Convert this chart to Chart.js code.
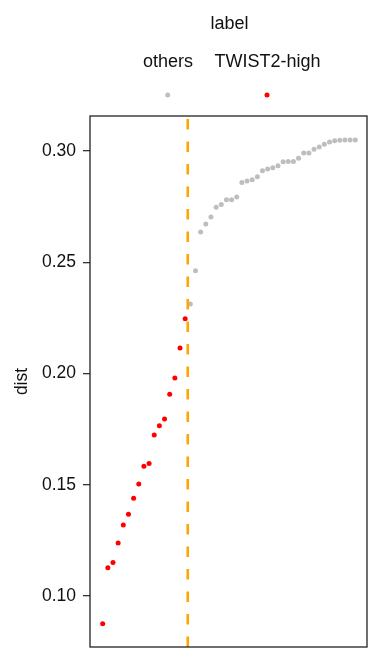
<!DOCTYPE html>
<html>
<head>
<meta charset="utf-8">
<script src="https://cdn.jsdelivr.net/npm/chart.js@4"></script>
<style>
  html, body { margin: 0; padding: 0; background: #fff; }
  canvas { display: block; }
</style>
</head>
<body>
<canvas id="c" width="384" height="672"></canvas>
<script>
// ---- data ----
const ranks = Array.from({length: 50}, (_, i) => i + 1);
const dist = [
  0.0876, 0.1127, 0.1151, 0.1238, 0.1319, 0.1367, 0.1439, 0.1503, 0.1583, 0.1595,
  0.1724, 0.1765, 0.1796, 0.1907, 0.1980, 0.2115, 0.2246,
  0.2312, 0.2462, 0.2636, 0.2672, 0.2703, 0.2747, 0.2759, 0.2781, 0.2781, 0.2793,
  0.2858, 0.2865, 0.2870, 0.2884, 0.2911, 0.2919, 0.2925, 0.2934, 0.2951, 0.2952,
  0.2952, 0.2967, 0.2991, 0.2991, 0.3008, 0.3018, 0.3030, 0.3040, 0.3046, 0.3048,
  0.3049, 0.3049, 0.3049
];
const groups = ranks.map(r => r <= 17 ? 'TWIST2-high' : 'others');
const legendLabels = ['others', 'TWIST2-high'];
const legendTitle = 'label';
const groupColors = { 'others': '#bebebe', 'TWIST2-high': '#ff0000' };
const yTicks = [0.10, 0.15, 0.20, 0.25, 0.30];
const cutoff = 17.5;
const yTitle = 'dist';

const FONT = '"Liberation Sans", Arial, sans-serif';

const datasets = legendLabels.map(g => ({
  label: g,
  data: ranks.map((r, i) => ({x: r, y: dist[i], g: groups[i]})).filter(p => p.g === g),
  backgroundColor: groupColors[g],
  borderWidth: 0,
  pointRadius: 2.5,
  pointHoverRadius: 2.5
}));

const framePlugin = {
  id: 'frame',
  afterDatasetsDraw(chart) {
    const {ctx, chartArea: a, scales} = chart;
    const xp = scales.x.getPixelForValue(cutoff);
    ctx.save();
    ctx.beginPath();
    ctx.rect(a.left, a.top, a.right - a.left, a.bottom - a.top);
    ctx.clip();
    ctx.strokeStyle = '#ffa500';
    ctx.lineWidth = 2.6;
    ctx.setLineDash([10.5, 12]);
    ctx.beginPath();
    ctx.moveTo(xp, a.bottom);
    ctx.lineTo(xp, a.top);
    ctx.stroke();
    ctx.restore();
    ctx.save();
    ctx.strokeStyle = '#222';
    ctx.lineWidth = 1.3;
    ctx.strokeRect(a.left, a.top, a.right - a.left, a.bottom - a.top);
    ctx.restore();
  },
  afterDraw(chart) {
    const {ctx} = chart;
    ctx.save();
    ctx.fillStyle = '#111';
    ctx.textAlign = 'center';
    ctx.textBaseline = 'alphabetic';
    ctx.font = '18px ' + FONT;
    ctx.fillText(legendTitle, 229.5, 29);
    const pos = [168, 267.5];
    legendLabels.forEach((l, i) => {
      ctx.fillStyle = '#111';
      ctx.fillText(l, pos[i], 67);
      ctx.fillStyle = groupColors[l];
      ctx.beginPath();
      ctx.arc(pos[i] - (i === 0 ? 0.3 : 0.5), 95, 2.5, 0, Math.PI * 2);
      ctx.fill();
    });
    ctx.restore();
  }
};

new Chart(document.getElementById('c'), {
  type: 'scatter',
  data: { datasets },
  options: {
    responsive: false,
    animation: false,
    layout: { padding: { top: 116, right: 17, bottom: 25, left: 0 } },
    plugins: { legend: { display: false }, tooltip: { enabled: false } },
    scales: {
      x: {
        display: false,
        min: -1.46,
        max: 52.27
      },
      y: {
        min: 0.0771,
        max: 0.3157,
        afterFit(scale) { scale.width = 90; },
        afterBuildTicks(scale) { scale.ticks = yTicks.map(v => ({value: v})); },
        grid: { drawOnChartArea: false, drawTicks: true, tickLength: 7, color: '#333', lineWidth: 1.3 },
        border: { display: false },
        ticks: {
          padding: 7,
          color: '#111',
          font: { family: FONT, size: 17.5 },
          callback: v => Number(v).toFixed(2)
        },
        title: {
          display: true,
          text: yTitle,
          color: '#111',
          font: { family: FONT, size: 17.5 },
          padding: { top: 12, bottom: 0 }
        }
      }
    }
  },
  plugins: [framePlugin]
});
</script>
</body>
</html>
